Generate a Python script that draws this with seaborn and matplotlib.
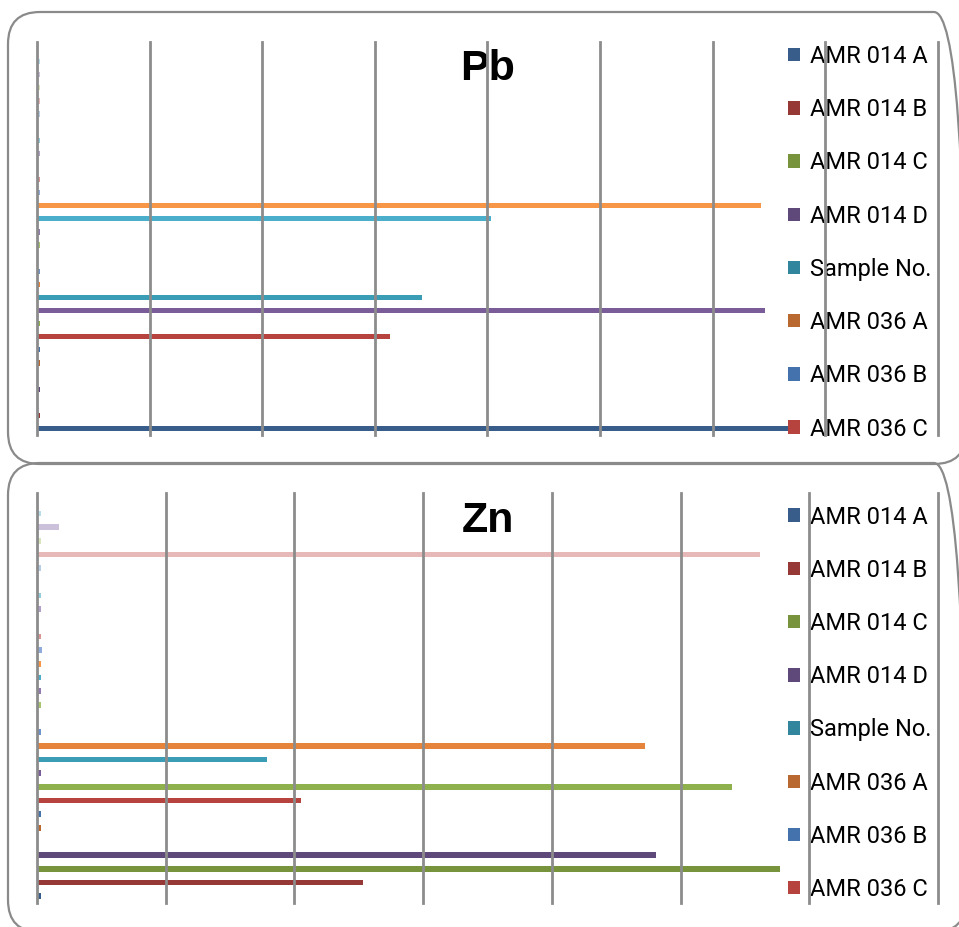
import numpy as np
import pandas as pd
import matplotlib
matplotlib.use("Agg")
import matplotlib.pyplot as plt
import seaborn as sns
from matplotlib.patches import FancyBboxPatch, Patch
from matplotlib.transforms import IdentityTransform

# series (bottom bar = first series); only the first 8 appear in the legend
series = ['AMR 014 A', 'AMR 014 B', 'AMR 014 C', 'AMR 014 D', 'Sample No.',
          'AMR 036 A', 'AMR 036 B', 'AMR 036 C'] + [f'Series {i}' for i in range(9, 31)]

colors = ['#385D8A', '#963836', '#77933C', '#5F497A', '#31859C', '#B9692F',
          '#4372AC', '#B7433F', '#8EB14E', '#7A5C98', '#3A9DB5', '#E5843A',
          '#6E93C8', '#CB6B69', '#A7C46E', '#917AAE', '#4BAECA', '#F79646',
          '#8FAADC', '#DA9694', '#C3D69B', '#B1A0C7', '#92CDDC', '#FABF8F',
          '#B9CDE5', '#E6B9B8', '#D7E4BD', '#CCC1DA', '#B7DEE8', '#FCD5B4']

pb_values = [6.68, 0.03, 0, 0.03, 0, 0.03, 0.03, 3.13, 0.03, 6.46,
             3.42, 0.03, 0.03, 0, 0.03, 0.03, 4.03, 6.43, 0.03, 0.03,
             0, 0.03, 0.03, 0, 0.03, 0.03, 0.03, 0.03, 0.03, 0]

zn_values = [0.03, 2.53, 5.77, 4.81, 0, 0.03, 0.03, 2.05, 5.40, 0.03,
             1.79, 4.72, 0.03, 0, 0.03, 0.03, 0.03, 0.03, 0.04, 0.03,
             0, 0.03, 0.03, 0, 0.03, 5.62, 0.03, 0.17, 0.03, 0]

W, H = 959, 927
fig = plt.figure(figsize=(W / 100, H / 100), dpi=100)

# rounded panel frames (pixel coords, origin bottom-left)
for (x0, y0, x1, y1) in [(8, 463, 966, 915), (8, -5, 966, 464)]:
    box = FancyBboxPatch((x0, y0), x1 - x0, y1 - y0,
                         boxstyle="round,pad=0,rounding_size=32",
                         transform=IdentityTransform(), facecolor='none',
                         edgecolor='#8A8A8A', linewidth=1.6)
    fig.patches.append(box)


def px_axes(left, top, right, bottom):
    return fig.add_axes([left / W, 1 - bottom / H, (right - left) / W, (bottom - top) / H])


panels = [
    ('Pb', pb_values, 8, (37, 42, 938, 435), 45),
    ('Zn', zn_values, 7, (37, 493, 938, 903), 505.5),
]

for title, vals, nmax, (l, t, r, b), leg_top in panels:
    ax = px_axes(l, t, r, b)
    df = pd.DataFrame({'series': series, 'value': vals})
    sns.barplot(data=df, x='value', y='series', hue='series', order=series[::-1],
                hue_order=series, palette=colors, orient='h', width=0.4,
                legend=False, ax=ax, saturation=1)
    ax.set_xlim(0, nmax)
    ax.set_ylim(29.5, -0.5)
    ax.set_xticks([])
    ax.set_yticks([])
    ax.set_xlabel('')
    ax.set_ylabel('')
    for s in ax.spines.values():
        s.set_visible(False)
    ax.patch.set_alpha(0)

    ax.text(0.5, 0.932, title, transform=ax.transAxes, ha='center', va='center',
            fontsize=31, fontweight='bold', family='Liberation Sans', zorder=4)

    handles = [Patch(facecolor=colors[i], edgecolor='none') for i in range(8)]
    ax.legend(handles, series[:8], loc='upper left',
              bbox_to_anchor=((788 - l) / (r - l), (b - leg_top) / (b - t)), frameon=False,
              prop={'family': 'Roboto', 'size': 17}, borderpad=0, borderaxespad=0,
              handlelength=0.5, handleheight=0.5, handletextpad=0.45,
              labelspacing=1.28)

    # vertical gridlines drawn over everything, like the original
    for g in range(nmax + 1):
        ax.axvline(g, color='#8C8C8C', linewidth=2.0, zorder=10, clip_on=False)

fig.savefig('out.png', dpi=100)
